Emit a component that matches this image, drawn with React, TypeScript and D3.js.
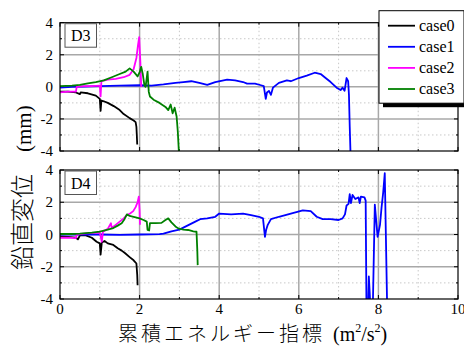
import React from 'react';
import * as d3 from 'd3';

type Pt = [number, number];

// series names and colours
const seriesNames = ['case0', 'case1', 'case2', 'case3'];
const seriesColors = ['#000000', '#0000ff', '#ff00ff', '#008000'];

const xTicks = [0, 2, 4, 6, 8, 10];
const yTicks = [4, 2, 0, -2, -4];

// panel D3
const d3Case0: Pt[] = [[0,-0.3],[0.2,-0.3],[0.4,-0.35],[0.5,-0.45],[0.52,-0.35],[0.7,-0.4],[0.9,-0.55],[1.0,-0.75],[1.02,-1.5],[1.04,-0.85],[1.1,-0.9],[1.2,-1.0],[1.35,-1.2],[1.5,-1.45],[1.6,-1.7],[1.75,-1.95],[1.85,-2.1],[1.9,-2.2],[1.92,-2.5],[1.93,-3.0],[1.94,-3.6]];
const d3Case1: Pt[] = [[0,-0.05],[0.3,0.0],[0.6,0.02],[1.0,0.05],[1.5,0.08],[2.0,0.1],[2.3,0.08],[2.6,0.15],[2.9,0.25],[3.1,0.3],[3.3,0.35],[3.5,0.25],[3.7,0.12],[3.9,0.3],[4.2,0.45],[4.4,0.4],[4.6,0.3],[4.7,0.2],[4.9,0.2],[5.05,0.1],[5.12,0.05],[5.17,-0.75],[5.2,-0.35],[5.25,-0.25],[5.3,-0.5],[5.35,-0.05],[5.5,0.25],[5.7,0.4],[5.8,0.35],[6.0,0.55],[6.2,0.7],[6.4,0.88],[6.55,0.8],[6.65,0.6],[6.8,0.3],[6.95,-0.05],[7.05,-0.2],[7.1,-0.05],[7.15,-0.25],[7.2,0.55],[7.24,0.35],[7.26,-0.5],[7.28,-2.5],[7.3,-4.2]];
const d3Case2: Pt[] = [[0,-0.35],[0.2,-0.3],[0.4,-0.3],[0.42,0.0],[0.6,0.05],[0.8,0.05],[1.0,0.08],[1.02,-0.6],[1.04,0.35],[1.2,0.45],[1.4,0.5],[1.6,0.6],[1.75,0.75],[1.85,1.1],[1.92,1.8],[1.96,2.6],[1.99,3.1],[2.02,1.5],[2.04,0.0]];
const d3Case3: Pt[] = [[0,0.05],[0.3,0.08],[0.5,0.12],[0.7,0.22],[0.9,0.3],[1.1,0.4],[1.3,0.6],[1.5,0.8],[1.65,0.95],[1.75,1.15],[1.85,0.95],[1.95,0.65],[2.0,0.9],[2.04,1.25],[2.08,0.8],[2.12,0.1],[2.15,0.0],[2.2,0.95],[2.23,-0.3],[2.26,-0.6],[2.35,-0.8],[2.5,-1.0],[2.65,-1.25],[2.72,-1.45],[2.78,-1.1],[2.83,-1.65],[2.88,-1.3],[2.93,-1.85],[2.96,-2.8],[2.99,-4.2]];

// panel D4
const d4Case0: Pt[] = [[0,-0.12],[0.2,-0.15],[0.4,-0.2],[0.45,-0.3],[0.5,-0.05],[0.65,-0.05],[0.8,-0.2],[0.92,-0.45],[1.0,-0.55],[1.02,-1.25],[1.05,-0.5],[1.12,-0.4],[1.2,-0.55],[1.34,-0.65],[1.45,-0.85],[1.55,-1.0],[1.63,-1.15],[1.75,-1.4],[1.85,-1.6],[1.92,-1.8],[1.94,-2.5],[1.95,-3.15]];
const d4Case1: Pt[] = [[0,0],[0.5,0.0],[1.0,0.0],[1.5,-0.02],[2.0,0.0],[2.5,0.02],[2.6,0.05],[2.8,0.2],[3.0,0.3],[3.2,0.55],[3.4,0.8],[3.52,0.95],[3.7,1.0],[3.9,1.1],[4.0,1.3],[4.3,1.25],[4.6,1.3],[4.8,1.2],[5.0,1.1],[5.1,1.0],[5.15,-0.15],[5.18,0.3],[5.22,0.6],[5.3,0.95],[5.5,1.1],[5.8,1.3],[6.1,1.5],[6.3,1.45],[6.45,1.1],[6.6,0.95],[6.8,0.95],[7.0,0.9],[7.1,1.0],[7.16,1.25],[7.2,1.8],[7.25,1.9],[7.28,2.5],[7.31,1.95],[7.35,2.45],[7.42,2.2],[7.5,2.3],[7.53,1.95],[7.56,2.35],[7.65,2.3],[7.68,2.1],[7.7,-4.5],[7.74,-4.5],[7.76,-2.6],[7.8,-4.5],[7.86,-4.5],[7.91,1.85],[7.98,-0.15],[8.04,0.6],[8.08,1.7],[8.12,2.6],[8.16,3.8],[8.22,-4.5]];
const d4Case2: Pt[] = [[0,-0.2],[0.2,-0.2],[0.4,-0.22],[0.42,0.0],[0.6,0.05],[0.8,0.1],[1.0,0.12],[1.05,-0.45],[1.08,0.17],[1.2,0.35],[1.28,0.7],[1.3,0.4],[1.4,0.6],[1.5,0.8],[1.6,1.0],[1.68,1.2],[1.76,1.3],[1.84,1.45],[1.9,1.7],[1.95,2.0],[1.98,2.35],[2.0,1.5],[2.01,0.6]];
const d4Case3: Pt[] = [[0,0.03],[0.3,0.03],[0.5,0.05],[0.8,0.12],[1.0,0.18],[1.2,0.3],[1.34,0.4],[1.45,0.55],[1.55,0.7],[1.62,0.95],[1.68,1.25],[1.75,1.15],[1.85,1.1],[2.0,1.0],[2.1,0.9],[2.18,0.8],[2.2,0.28],[2.24,0.25],[2.26,0.7],[2.4,0.7],[2.55,0.72],[2.65,0.9],[2.72,1.0],[2.8,0.75],[2.9,0.5],[2.97,0.38],[3.1,0.3],[3.22,0.28],[3.35,0.2],[3.43,0.17],[3.45,-1.0],[3.46,-1.9]];

const panels = [
  { id: 'D3', top: 22.7, bottom: 151, series: [d3Case0, d3Case1, d3Case2, d3Case3] },
  { id: 'D4', top: 170, bottom: 299, series: [d4Case0, d4Case1, d4Case2, d4Case3] },
];

const W = 464, H = 347;
const left = 60, right = 458;
const serif: React.CSSProperties = { fontFamily: "'Liberation Serif', 'Times New Roman', 'DejaVu Serif', serif" };
const cjk: React.CSSProperties = { fontFamily: "'Noto Sans CJK JP', sans-serif", fontWeight: 300 };

const x = d3.scaleLinear().domain([0, 10]).range([left, right]);
const xMinor = d3.range(0, 11, 1);
const yMinor = d3.range(-4, 5, 1);

function Panel({ p, showX }: { p: typeof panels[0]; showX: boolean }) {
  const y = d3.scaleLinear().domain([-4, 4]).range([p.bottom, p.top]);
  const line = d3.line<Pt>().x(d => x(d[0])).y(d => y(d[1]));
  const clipId = 'clip-' + p.id;
  return (
    <g>
      <defs>
        <clipPath id={clipId}>
          <rect x={left} y={p.top} width={right - left} height={p.bottom - p.top} />
        </clipPath>
      </defs>
      {/* grid */}
      {xMinor.filter(v => v > 0 && v < 10).map(v => (
        <line key={'gx' + v} x1={x(v)} x2={x(v)} y1={p.top} y2={p.bottom}
          stroke={v % 2 === 0 ? '#a8a8a8' : '#c8c8c8'} strokeWidth={v % 2 === 0 ? 1.5 : 1}
          strokeDasharray={v % 2 === 0 ? undefined : '1.5,2.5'} />
      ))}
      {yMinor.filter(v => v > -4 && v < 4).map(v => (
        <line key={'gy' + v} x1={left} x2={right} y1={y(v)} y2={y(v)}
          stroke={v % 2 === 0 ? '#a8a8a8' : '#c8c8c8'} strokeWidth={v % 2 === 0 ? 1.5 : 1}
          strokeDasharray={v % 2 === 0 ? undefined : '1.5,2.5'} />
      ))}
      {/* ticks inward */}
      {xMinor.map(v => (
        <g key={'tx' + v}>
          <line x1={x(v)} x2={x(v)} y1={p.bottom} y2={p.bottom - (v % 2 === 0 ? 4 : 2)} stroke="#000" />
          <line x1={x(v)} x2={x(v)} y1={p.top} y2={p.top + (v % 2 === 0 ? 4 : 2)} stroke="#000" />
        </g>
      ))}
      {yMinor.map(v => (
        <g key={'ty' + v}>
          <line x1={left} x2={left + (v % 2 === 0 ? 4 : 2)} y1={y(v)} y2={y(v)} stroke="#000" />
          <line x1={right} x2={right - (v % 2 === 0 ? 4 : 2)} y1={y(v)} y2={y(v)} stroke="#000" />
        </g>
      ))}
      {/* series */}
      <g clipPath={`url(#${clipId})`}>
        {p.series.map((s, i) => (
          <path key={i} d={line(s) || ''} fill="none" stroke={seriesColors[i]}
            strokeWidth={1.8} strokeLinejoin="round" />
        ))}
      </g>
      <rect x={left} y={p.top} width={right - left} height={p.bottom - p.top}
        fill="none" stroke="#000" strokeWidth={1.2} />
      {/* y tick labels */}
      {yTicks.map(v => (
        <text key={'yl' + v} x={53} y={y(v) + 5} textAnchor="end" style={serif} fontSize={15}>{v}</text>
      ))}
      {showX && xTicks.map(v => (
        <text key={'xl' + v} x={x(v)} y={314} textAnchor="middle" style={serif} fontSize={15}>{v}</text>
      ))}
      {/* panel label */}
      <rect x={65} y={p.top + 1} width={31.5} height={23.5} fill="#fff" stroke="#555" strokeWidth={1} />
      <text x={80.75} y={p.top + 18.5} textAnchor="middle" style={serif} fontSize={16}>{p.id}</text>
    </g>
  );
}

export default function App() {
  const legX = 379, legY = 10.7, legW = 85, legH = 92.5;
  return (
    <svg width={W} height={H} style={{ position: 'absolute', left: 0, top: 0, background: '#fff' }}>
      <rect width={W} height={H} fill="#fff" />
      {panels.map((p, i) => <Panel key={p.id} p={p} showX={i === 1} />)}
      {/* legend */}
      <rect x={legX + 4} y={legY + 4} width={legW} height={legH} fill="#000" />
      <rect x={legX} y={legY} width={legW} height={legH} fill="#fff" stroke="#000" strokeWidth={1} />
      {seriesNames.map((n, i) => {
        const cy = 25.7 + i * 21.1;
        return (
          <g key={n}>
            <line x1={388} x2={415} y1={cy} y2={cy} stroke={seriesColors[i]} strokeWidth={1.8} />
            <text x={419} y={cy + 5} style={serif} fontSize={16}>{n}</text>
          </g>
        );
      })}
      {/* axis titles */}
      <text x={118} y={341} fontSize={20}>
        <tspan style={cjk} letterSpacing={3}>累積エネルギー指標</tspan>
        <tspan style={serif} fontSize={20} dx={8}>(m</tspan>
        <tspan style={serif} fontSize={12} dy={-9}>2</tspan>
        <tspan style={serif} fontSize={20} dy={9}>/s</tspan>
        <tspan style={serif} fontSize={12} dy={-9}>2</tspan>
        <tspan style={serif} fontSize={20} dy={9}>)</tspan>
      </text>
      <text transform="translate(31,270) rotate(-90)" fontSize={24}>
        <tspan style={cjk}>鉛直変位</tspan>
        <tspan style={serif} fontSize={21} dx={22}>(mm)</tspan>
      </text>
    </svg>
  );
}
